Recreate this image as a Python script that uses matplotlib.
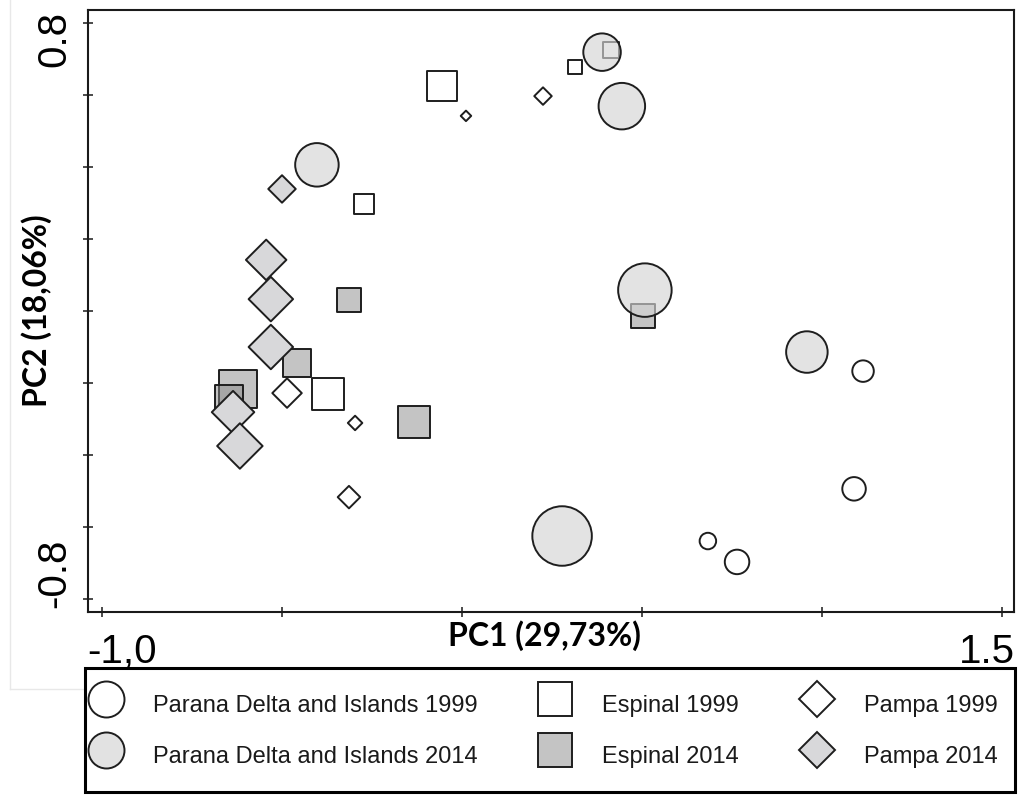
import matplotlib
matplotlib.use("Agg")
import matplotlib.pyplot as plt
from matplotlib.lines import Line2D
from matplotlib.transforms import ScaledTranslation
import numpy as np

# ---------------- data (PC1, PC2, relative symbol size) ----------------
pd1999_x = [1.114, 1.089, 0.683, 0.764]
pd1999_y = [-0.167, -0.494, -0.639, -0.697]
pd1999_size = [23, 25, 18, 26]

pd2014_x = [0.389, 0.444, -0.403, 0.508, 0.958, 0.278]
pd2014_y = [0.719, 0.569, 0.406, 0.058, -0.114, -0.625]
pd2014_size = [39, 48, 45, 55, 43, 61]

esp1999_x = [-0.056, 0.314, 0.414, -0.272, -0.372]
esp1999_y = [0.625, 0.678, 0.725, 0.297, -0.231]
esp1999_size = [31, 16, 18, 21, 34]

esp2014_x = [-0.314, 0.503, -0.458, -0.622, -0.647, -0.133]
esp2014_y = [0.031, -0.014, -0.144, -0.217, -0.244, -0.308]
esp2014_size = [25, 25, 30, 40, 29, 34]

pam1999_x = [0.011, 0.225, -0.486, -0.297, -0.314]
pam1999_y = [0.542, 0.597, -0.228, -0.311, -0.517]
pam1999_size = [12, 19, 31, 16, 24]

pam2014_x = [-0.500, -0.544, -0.531, -0.531, -0.636, -0.617]
pam2014_y = [0.339, 0.142, 0.033, -0.100, -0.281, -0.375]
pam2014_size = [29, 42, 46, 46, 44, 47]

series_labels = ["Parana Delta and Islands 1999", "Parana Delta and Islands 2014",
                 "Espinal 1999", "Espinal 2014", "Pampa 1999", "Pampa 2014"]

x_ticks = [-1.0, -0.5, 0.0, 0.5, 1.0, 1.5]
x_ticklabels = ["-1,0", "", "", "", "", "1.5"]
y_ticks = [0.8, 0.6, 0.4, 0.2, 0.0, -0.2, -0.4, -0.6, -0.8]
y_ticklabels = ["0.8", "", "", "", "", "", "", "", "-0.8"]

x_label = "PC1 (29,73%)"
y_label = "PC2 (18,06%)"

# ---------------- styling ----------------
DPI = 100
W, H = 1018, 796
EDGE = "#1e1e1e"
LW = 1.4
SANS = ["Liberation Sans", "DejaVu Sans"]
BOLD = ["Lato", "DejaVu Sans"]

fig = plt.figure(figsize=(W / DPI, H / DPI), dpi=DPI)
fig.patch.set_facecolor("white")

# faint outer frame of the original figure panel
fig.add_artist(Line2D([10 / W, 10 / W], [1.0, 1 - 689 / H], transform=fig.transFigure,
                      color="#e8e8e8", lw=1.0, zorder=0))
fig.add_artist(Line2D([10 / W, 1015 / W], [1 - 689 / H, 1 - 689 / H], transform=fig.transFigure,
                      color="#e8e8e8", lw=1.0, zorder=0))

ax = fig.add_axes([88 / W, 1 - 612 / H, 926 / W, 602 / H])
ax.set_xlim(-1.0389, 1.5333)
ax.set_ylim(-0.8361, 0.8361)


def pt(px):
    return px * 72.0 / DPI


def area_round(sizes):
    return [pt(d - 1.5) ** 2 for d in sizes]


def area_diamond(sizes):
    return [pt((d - 1.5) / np.sqrt(2)) ** 2 for d in sizes]


c_circ14 = (0.83, 0.83, 0.83, 0.65)
c_sq14 = (0.54, 0.54, 0.54, 0.5)
c_dia14 = "#d8d8da"

ax.scatter(esp1999_x, esp1999_y, s=area_round(esp1999_size), marker="s",
           facecolors="white", edgecolors=EDGE, linewidths=LW, zorder=2)
ax.scatter(esp2014_x, esp2014_y, s=area_round(esp2014_size), marker="s",
           facecolors=[c_sq14], edgecolors=EDGE, linewidths=LW, zorder=2.1)
ax.scatter(pd1999_x, pd1999_y, s=area_round(pd1999_size), marker="o",
           facecolors="white", edgecolors=EDGE, linewidths=LW, zorder=3)
ax.scatter(pd2014_x, pd2014_y, s=area_round(pd2014_size), marker="o",
           facecolors=[c_circ14], edgecolors=EDGE, linewidths=LW, zorder=3.1)
ax.scatter(pam1999_x, pam1999_y, s=area_diamond(pam1999_size), marker="D",
           facecolors="white", edgecolors=EDGE, linewidths=LW, zorder=4)
ax.scatter(pam2014_x, pam2014_y, s=area_diamond(pam2014_size), marker="D",
           facecolors=c_dia14, edgecolors=EDGE, linewidths=LW, zorder=4.1)

# ---------------- axes ----------------
for sp in ax.spines.values():
    sp.set_linewidth(1.5)
    sp.set_color("#1a1a1a")

ax.set_xticks(x_ticks)
ax.set_xticklabels(x_ticklabels, fontsize=29, family=SANS)
ax.set_yticks(y_ticks)
ax.set_yticklabels(y_ticklabels, fontsize=29, family=SANS, rotation=90)
ax.tick_params(axis="both", direction="inout", length=7.2, width=1.1, color="#1a1a1a")
ax.tick_params(axis="x", pad=11.5)
ax.tick_params(axis="y", pad=6.8)

for lab in ax.get_yticklabels():
    lab.set_verticalalignment("center")

xl = ax.get_xticklabels()
yl = ax.get_yticklabels()
shift = lambda dx, dy: ScaledTranslation(dx / DPI, dy / DPI, fig.dpi_scale_trans)
xl[0].set_transform(xl[0].get_transform() + shift(20, 0))
xl[-1].set_transform(xl[-1].get_transform() + shift(-15, 0))
yl[0].set_transform(yl[0].get_transform() + shift(0, -16))
yl[-1].set_transform(yl[-1].get_transform() + shift(0, 26))

ax.set_xlabel(x_label, fontsize=23, fontweight="bold", family=BOLD)
ax.set_ylabel(y_label, fontsize=23, fontweight="bold", family=BOLD)
ax.xaxis.set_label_coords((544 - 88) / 926, (612 - 636) / 602)
ax.xaxis.label.set_verticalalignment("center")
ax.yaxis.set_label_coords((37 - 88) / 926, 0.5)
ax.yaxis.label.set_verticalalignment("center")

# ---------------- legend ----------------
handles = [
    Line2D([], [], ls="none", marker="o", markersize=pt(36), mfc="white", mec=EDGE, mew=LW),
    Line2D([], [], ls="none", marker="o", markersize=pt(36), mfc="#e2e2e2", mec=EDGE, mew=LW),
    Line2D([], [], ls="none", marker="s", markersize=pt(34), mfc="white", mec=EDGE, mew=LW),
    Line2D([], [], ls="none", marker="s", markersize=pt(34), mfc="#c4c4c4", mec=EDGE, mew=LW),
    Line2D([], [], ls="none", marker="D", markersize=pt(36 / np.sqrt(2)), mfc="white", mec=EDGE, mew=LW),
    Line2D([], [], ls="none", marker="D", markersize=pt(36 / np.sqrt(2)), mfc=c_dia14, mec=EDGE, mew=LW),
]
leg = fig.legend(handles, series_labels, ncol=3, mode="expand", loc="center",
                 bbox_to_anchor=(85 / W, 4 / H, 930 / W, 124 / H),
                 prop={"family": SANS, "size": 17}, frameon=True, fancybox=False,
                 framealpha=1, edgecolor="black", borderpad=0.75, handlelength=0.28,
                 handletextpad=1.84, handleheight=2.0, labelspacing=0.64,
                 borderaxespad=0.0, numpoints=1)
leg.get_frame().set_linewidth(2.2)
for t in leg.get_texts():
    t.set_color("#1a1a1a")

fig.savefig("out.png", dpi=DPI)
